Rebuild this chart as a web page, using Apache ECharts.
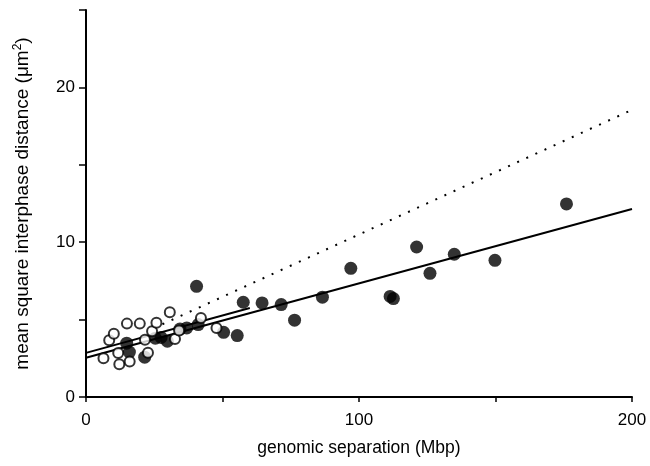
<!DOCTYPE html>
<html>
<head>
<meta charset="utf-8">
<script src="https://cdn.jsdelivr.net/npm/echarts@6/dist/echarts.min.js"></script>
<style>html,body{margin:0;padding:0;background:#fff;}#c{width:650px;height:466px;}</style>
</head>
<body>
<div id="c"></div>
<script>
// filled circles: [genomic separation (Mbp), mean square distance (um^2)]
const filledPoints = [
  [14.9,3.48],[15.9,2.9],[21.5,2.57],[25.4,3.8],[27.5,3.85],[29.8,3.6],[34.4,4.39],[36.9,4.46],
  [40.5,7.15],[41.1,4.68],[50.4,4.18],[55.4,3.97],[57.6,6.12],[64.5,6.08],[71.5,5.97],[76.4,4.96],
  [86.6,6.45],[97,8.31],[111.4,6.5],[112.6,6.36],[121.1,9.69],[126,7.99],[134.9,9.22],[149.8,8.83],[176,12.47]
];
// open circles
const openPoints = [
  [6.4,2.51],[8.5,3.66],[10.2,4.09],[11.8,2.84],[12.2,2.12],[15,4.74],[16,2.29],[19.7,4.74],
  [21.6,3.7],[22.7,2.86],[24.2,4.24],[25.8,4.8],[30.7,5.47],[32.6,3.74],[34.1,4.3],[42.1,5.11],[47.8,4.46]
];
// fitted lines (endpoints)
const fitLong = [[0,2.54],[200,12.14]];
const fitShort = [[0,2.85],[60,5.75]];
const fitDotted = [[28,4.7],[200,18.55]];
const xTickLabels = [0,100,200];
const yTickLabels = [0,10,20];

const chart = echarts.init(document.getElementById('c'));
const font = 'Liberation Sans, Arial, Helvetica, sans-serif';
chart.setOption({
  animation: false,
  backgroundColor: '#fff',
  grid: {left: 86, right: 18, top: 10, bottom: 69},
  xAxis: {
    type: 'value', min: 0, max: 200, interval: 50,
    name: 'genomic separation (Mbp)', nameLocation: 'middle', nameGap: 42,
    nameTextStyle: {color: '#000', fontSize: 17.5, fontFamily: font},
    axisLine: {show: true, lineStyle: {color: '#000', width: 2}},
    axisTick: {show: true, length: 5, lineStyle: {color: '#000', width: 1.5}},
    axisLabel: {color: '#000', fontSize: 17, fontFamily: font, margin: 15,
      formatter: v => xTickLabels.includes(v) ? String(v) : ''},
    splitLine: {show: false}
  },
  yAxis: {
    type: 'value', min: 0, max: 25, interval: 5,
    name: '{a|mean square interphase distance (μm}{s|2}{a|)}', nameLocation: 'middle', nameGap: 53,
    nameTextStyle: {rich: {
      a: {color: '#000', fontSize: 19, fontFamily: font, lineHeight: 21},
      s: {color: '#000', fontSize: 12, fontFamily: font, lineHeight: 21, verticalAlign: 'top', padding: [0,0,11,0]}
    }},
    axisLine: {show: true, lineStyle: {color: '#000', width: 2}},
    axisTick: {show: true, length: 7, lineStyle: {color: '#000', width: 1.5}},
    axisLabel: {color: '#000', fontSize: 17, fontFamily: font, margin: 11,
      formatter: v => yTickLabels.includes(v) ? String(v) : ''},
    splitLine: {show: false}
  },
  series: [
    {type: 'line', data: fitDotted, symbol: 'none', silent: true,
      lineStyle: {color: '#000', width: 2, type: [2, 8]}, z: 1},
    {type: 'line', data: fitLong, symbol: 'none', silent: true,
      lineStyle: {color: '#000', width: 2}, z: 1},
    {type: 'line', data: fitShort, symbol: 'none', silent: true,
      lineStyle: {color: '#000', width: 2}, z: 1},
    {type: 'scatter', data: filledPoints, symbol: 'circle', symbolSize: 13,
      itemStyle: {color: '#000'}, z: 2},
    {type: 'scatter', data: openPoints, symbol: 'circle', symbolSize: 10,
      itemStyle: {color: '#fff', borderColor: '#000', borderWidth: 2}, z: 3}
  ]
});
</script>
</body>
</html>
